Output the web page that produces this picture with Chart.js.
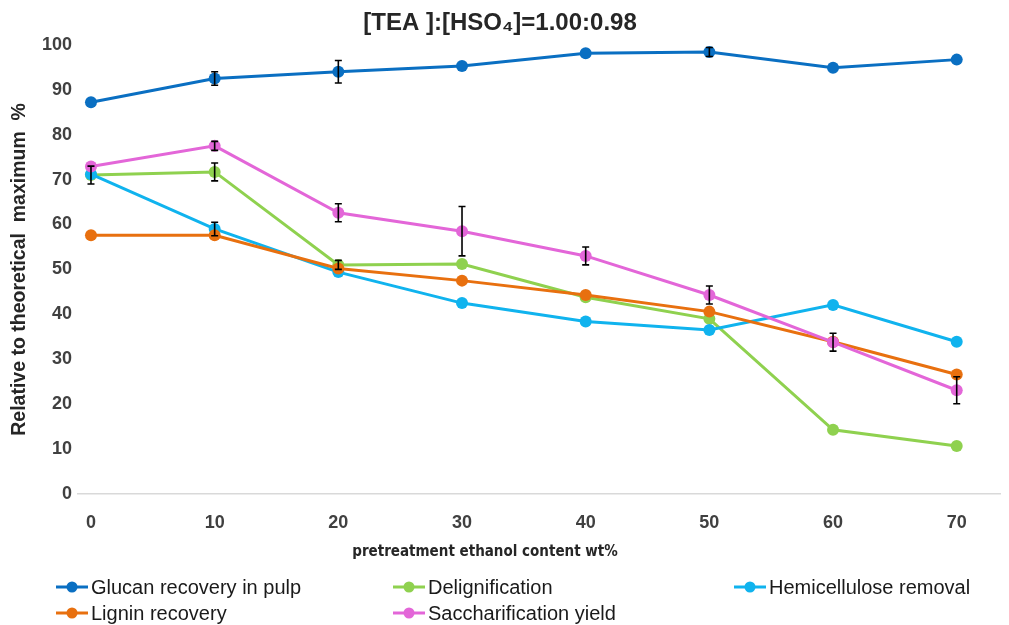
<!DOCTYPE html>
<html>
<head>
<meta charset="utf-8">
<script src="https://cdn.jsdelivr.net/npm/chart.js@4.4.1/dist/chart.umd.min.js"></script>
<style>
  html, body { margin: 0; padding: 0; background: #fff; }
  #wrap { width: 1009px; height: 625px; position: relative; }
</style>
</head>
<body>
<div id="wrap"><canvas id="chart"></canvas></div>
<script>
// ethanol content (wt%) on the x axis
const ethanol = [0, 10, 20, 30, 40, 50, 60, 70];
const xTicks = [0, 10, 20, 30, 40, 50, 60, 70];
const yTicks = [0, 10, 20, 30, 40, 50, 60, 70, 80, 90, 100];

// values (% of theoretical maximum)
const glucan = [87.2, 92.5, 94.0, 95.3, 98.1, 98.4, 94.9, 96.7];
const delignification = [71.0, 71.7, 51.0, 51.2, 43.8, 39.0, 14.3, 10.7];
const hemicellulose = [71.2, 59.0, 49.4, 42.5, 38.4, 36.5, 42.1, 33.9];
const lignin = [57.6, 57.6, 50.2, 47.5, 44.3, 40.6, 33.9, 26.6];
const saccharification = [72.9, 77.5, 62.6, 58.5, 53.0, 44.3, 33.8, 23.1];

// error bar half-heights (0 = none shown)
const glucanErr = [0, 1.5, 2.5, 0, 0, 1, 0, 0];
const delignificationErr = [2, 2, 1, 0, 0, 0, 0, 0];
const hemicelluloseErr = [0, 1.5, 0, 0, 0, 0, 0, 0];
const ligninErr = [0, 0, 0, 0, 0, 0, 0, 0];
const saccharificationErr = [0, 1, 2, 5.5, 2, 2, 2, 3];

const seriesNames = ['Glucan recovery in pulp', 'Delignification', 'Hemicellulose removal',
  'Lignin recovery', 'Saccharification yield'];
const seriesColors = ['#0a6fc2', '#8fd14f', '#10b3ee', '#e8700f', '#e366d8'];
const seriesValues = [glucan, delignification, hemicellulose, lignin, saccharification];
const seriesErrors = [glucanErr, delignificationErr, hemicelluloseErr, ligninErr, saccharificationErr];

const datasets = seriesNames.map((name, i) => ({
  label: name,
  data: ethanol.map((x, j) => ({ x: x, y: seriesValues[i][j] })),
  errors: seriesErrors[i],
  borderColor: seriesColors[i],
  backgroundColor: seriesColors[i],
  borderWidth: 3,
  pointRadius: 6,
  pointBorderWidth: 0,
  tension: 0,
  order: seriesNames.length - i // later series drawn on top, like Excel
}));

// black error bars with caps
const errorBars = {
  id: 'errorBars',
  afterDatasetsDraw(chart) {
    const ctx = chart.ctx;
    const xs = chart.scales.x, ys = chart.scales.y;
    ctx.save();
    ctx.strokeStyle = '#000';
    ctx.lineWidth = 1.6;
    chart.data.datasets.forEach(ds => {
      ds.data.forEach((p, j) => {
        const e = ds.errors[j];
        if (!e) return;
        const px = xs.getPixelForValue(p.x);
        const top = ys.getPixelForValue(p.y + e);
        const bot = ys.getPixelForValue(p.y - e);
        ctx.beginPath();
        ctx.moveTo(px, top); ctx.lineTo(px, bot);
        ctx.moveTo(px - 3.5, top); ctx.lineTo(px + 3.5, top);
        ctx.moveTo(px - 3.5, bot); ctx.lineTo(px + 3.5, bot);
        ctx.stroke();
      });
    });
    ctx.restore();
  }
};

// x title + three-column legend underneath
const bottomText = {
  id: 'bottomText',
  afterDraw(chart) {
    const ctx = chart.ctx;
    ctx.save();
    ctx.fillStyle = '#262626';
    ctx.font = 'bold 15px "DejaVu Sans Condensed", "Liberation Sans Narrow", sans-serif';
    ctx.textAlign = 'center';
    ctx.textBaseline = 'middle';
    ctx.fillText('pretreatment ethanol content wt%', 485, 552);

    const colX = [56, 393, 734, 56, 393];
    const rowY = [587, 587, 587, 613, 613];
    ctx.font = '20px "Liberation Sans", sans-serif';
    ctx.textAlign = 'left';
    chart.data.datasets.forEach((ds, i) => {
      const x = colX[i], y = rowY[i];
      ctx.strokeStyle = ds.borderColor;
      ctx.fillStyle = ds.borderColor;
      ctx.lineWidth = 3;
      ctx.beginPath();
      ctx.moveTo(x, y); ctx.lineTo(x + 32, y);
      ctx.stroke();
      ctx.beginPath();
      ctx.arc(x + 16, y, 5.5, 0, Math.PI * 2);
      ctx.fill();
      ctx.fillStyle = '#1a1a1a';
      ctx.fillText(ds.label, x + 35, y + 1);
    });
    ctx.restore();
  }
};

const ctx = document.getElementById('chart').getContext('2d');
const chart = new Chart(ctx, {
  type: 'line',
  data: { datasets: datasets },
  plugins: [errorBars, bottomText],
  options: {
    responsive: true,
    maintainAspectRatio: false,
    animation: false,
    layout: { padding: { top: 0, right: 9, bottom: 60, left: 0 } },
    scales: {
      x: {
        type: 'linear',
        min: -1.05,
        max: 73.5,
        afterBuildTicks: (scale) => { scale.ticks = xTicks.map(v => ({ value: v })); },
        afterFit: (scale) => { scale.height = 71; },
        grid: { display: false, drawTicks: false },
        border: { display: true, color: '#d9d9d9', width: 1.5 },
        ticks: {
          padding: 18,
          color: '#404040',
          font: { family: 'Liberation Sans', size: 18, weight: 'bold' }
        }
      },
      y: {
        min: 0,
        max: 100,
        afterBuildTicks: (scale) => { scale.ticks = yTicks.map(v => ({ value: v })); },
        afterFit: (scale) => { scale.width = 78; },
        grid: { display: false, drawTicks: false },
        border: { display: false },
        ticks: {
          padding: 6,
          color: '#404040',
          font: { family: 'Liberation Sans', size: 18, weight: 'bold' }
        },
        title: {
          display: true,
          text: 'Relative to theoretical  maximum  %',
          color: '#262626',
          padding: { top: 8, bottom: 0 },
          font: { family: 'Liberation Sans', size: 19.5, weight: 'bold' }
        }
      }
    },
    plugins: {
      legend: { display: false },
      tooltip: { enabled: false },
      title: {
        display: true,
        text: '[TEA ]:[HSO\u2084]=1.00:0.98',
        color: '#262626',
        padding: { top: 9, bottom: 7 },
        font: { family: 'Liberation Sans', size: 24, weight: 'bold' }
      }
    }
  }
});
</script>
</body>
</html>
